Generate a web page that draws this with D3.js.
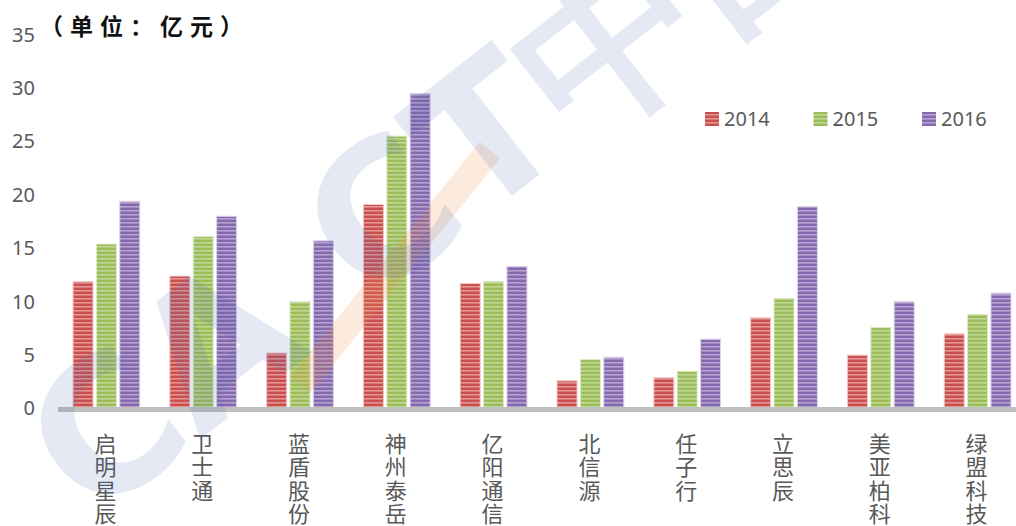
<!DOCTYPE html>
<html>
<head>
<meta charset="utf-8">
<script src="https://cdn.jsdelivr.net/npm/d3@7"></script>
<style>
  html, body { margin: 0; padding: 0; background: #fff; }
  svg { display: block; }
  text { font-family: "Noto Sans CJK SC", "Noto Sans", sans-serif; }
</style>
</head>
<body>
<svg id="chart" width="1016" height="526"></svg>
<script>
// categories and series (单位：亿元)
const companies = ["启明星辰", "卫士通", "蓝盾股份", "神州泰岳", "亿阳通信", "北信源", "任子行", "立思辰", "美亚柏科", "绿盟科技"];
const years = ["2014", "2015", "2016"];
const v2014 = [11.8, 12.3, 5.1, 19.0, 11.6, 2.5, 2.8, 8.4, 4.9, 6.9];
const v2015 = [15.3, 16.0, 9.9, 25.4, 11.8, 4.5, 3.4, 10.2, 7.5, 8.7];
const v2016 = [19.3, 17.9, 15.6, 29.4, 13.2, 4.7, 6.4, 18.8, 9.9, 10.7];
const yTicks = [0, 5, 10, 15, 20, 25, 30, 35];

const series = [v2014, v2015, v2016];
const palette = [
  { dark: "#c9504e", light: "#e39694", edge: "#f2c9c8" },
  { dark: "#9cbb59", light: "#c0d896", edge: "#dfebc8" },
  { dark: "#8568ad", light: "#b4a3cf", edge: "#ddd3ea" }
];

const svg = d3.select("#chart");

// striped fills like the original bars
const defs = svg.append("defs");
palette.forEach((p, i) => {
  const pat = defs.append("pattern")
    .attr("id", "stripe" + i)
    .attr("patternUnits", "userSpaceOnUse")
    .attr("width", 8).attr("height", 4);
  pat.append("rect").attr("width", 8).attr("height", 4).attr("fill", p.dark);
  pat.append("rect").attr("y", 2).attr("width", 8).attr("height", 1.6).attr("fill", p.light);
});

const x0 = d3.scaleBand()
  .domain(companies)
  .range([58, 1026])
  .paddingInner(0.3)
  .paddingOuter(0.15);

const x1 = d3.scaleBand()
  .domain(years)
  .range([0, x0.bandwidth()])
  .paddingInner(0.1);

const y = d3.scaleLinear()
  .domain([0, 35])
  .range([407.5, 33.6]);

// y axis labels only
const yAxis = svg.append("g")
  .attr("transform", "translate(38,1)")
  .call(d3.axisLeft(y).tickValues(yTicks).tickSize(0).tickPadding(3));
yAxis.select(".domain").remove();
yAxis.selectAll("text")
  .attr("fill", "#595959")
  .style("font-family", "'Noto Sans', sans-serif")
  .style("font-size", "20px");

// bars
const groups = svg.append("g").selectAll("g")
  .data(companies)
  .join("g")
  .attr("transform", d => `translate(${x0(d)},0)`);

groups.selectAll("rect")
  .data((d, i) => years.map((yr, k) => ({ yr: yr, k: k, v: series[k][i] })))
  .join("rect")
  .attr("x", d => x1(d.yr) + 0.5)
  .attr("y", d => y(d.v))
  .attr("width", x1.bandwidth() - 1)
  .attr("height", d => y(0) - y(d.v))
  .attr("fill", d => `url(#stripe${d.k})`)
  .attr("stroke", d => palette[d.k].edge)
  .attr("stroke-width", 1);

// baseline
svg.append("line")
  .attr("x1", 58).attr("x2", 1016)
  .attr("y1", y(0) + 2).attr("y2", y(0) + 2)
  .attr("stroke", "#bfbfbf")
  .attr("stroke-width", 5);

// vertical category labels, one char per row
const charRows = [];
companies.forEach(c => {
  Array.from(c).forEach((ch, i) => charRows.push({ c: c, ch: ch, i: i }));
});
svg.append("g").selectAll("text")
  .data(charRows)
  .join("text")
  .attr("x", d => x0(d.c) + x0.bandwidth() / 2 - 1)
  .attr("y", d => 452 + d.i * 23.3)
  .attr("text-anchor", "middle")
  .attr("fill", "#595959")
  .style("font-size", "22px")
  .text(d => d.ch);

// legend
const legend = svg.append("g").selectAll("g")
  .data(years)
  .join("g")
  .attr("transform", (d, i) => `translate(${705 + i * 108.5},112)`);
legend.append("rect")
  .attr("width", 14).attr("height", 14)
  .attr("fill", (d, i) => `url(#stripe${i})`);
legend.append("text")
  .attr("x", 19).attr("y", 14)
  .attr("fill", "#595959")
  .style("font-family", "'Noto Sans', sans-serif")
  .style("font-size", "20px")
  .text(d => d);

// unit title
svg.append("text")
  .attr("x", 40).attr("y", 35)
  .attr("fill", "#111")
  .style("font-size", "23px")
  .style("font-weight", "bold")
  .style("letter-spacing", "7px")
  .text("（单位：亿元）");

// faint watermark over the plot
const wm = svg.append("g").attr("pointer-events", "none");
wm.append("line")
  .attr("x1", 300).attr("y1", 385).attr("x2", 490).attr("y2", 150)
  .attr("stroke", "#f08a40").attr("stroke-opacity", 0.18)
  .attr("stroke-width", 26);
const wmText = wm.append("text")
  .attr("transform", "translate(92,524) rotate(-38)")
  .style("font-family", "'DejaVu Sans', sans-serif")
  .style("font-weight", "bold")
  .style("font-size", "186px")
  .attr("fill", "#4a66b0")
  .attr("fill-opacity", 0.14);
wmText.append("tspan").text("CA");
wmText.append("tspan").attr("dx", 70).text("CT中国");
</script>
</body>
</html>
